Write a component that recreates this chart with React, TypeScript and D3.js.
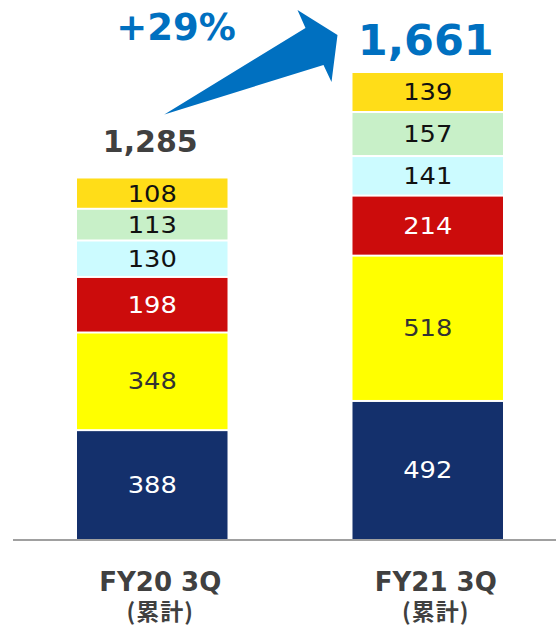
import React from "react";
import * as d3 from "d3";

const categories = ["FY20 3Q", "FY21 3Q"];
const subLabel = "(累計)";
const segmentKeys = ["s1", "s2", "s3", "s4", "s5", "s6"];
const fy20Values = [388, 348, 198, 130, 113, 108];
const fy21Values = [492, 518, 214, 141, 157, 139];
const totals = [1285, 1661];
const growthLabel = "+29%";

const segColors = ["#14306c", "#ffff00", "#cc0c0c", "#ccfbff", "#c8f0c8", "#ffdd18"];
const segTextColors = ["#ffffff", "#333333", "#ffffff", "#111111", "#111111", "#111111"];

const W = 556, H = 628;
const BASE = 539;

export default function App() {
  const x = d3.scaleBand<string>().domain(categories).range([14.5, 565.5]).paddingInner(0.4537).paddingOuter(0.2269);
  const y = d3.scaleLinear().domain([0, 1661]).range([BASE, 73]);

  const rows = categories.map((c, i) => {
    const vals = i === 0 ? fy20Values : fy21Values;
    const r: any = { cat: c };
    segmentKeys.forEach((k, j) => (r[k] = vals[j]));
    return r;
  });
  const series = d3.stack().keys(segmentKeys)(rows);
  const bw = x.bandwidth();
  const fmt = d3.format(",");

  // arrow anchored to the two totals: tail near FY20 total, head left of FY21 total
  const tx = x(categories[0])! + bw * 0.58, ty = y(totals[0]) - 64;
  const hx = x(categories[1])! - 15, hy = y(totals[1]) - 38;
  const arrowPts: [number, number][] = [
    [tx, ty],
    [hx - 32, hy - 7],
    [hx - 40, hy - 25],
    [hx, hy],
    [hx - 6, hy + 47],
    [hx - 14, hy + 30],
  ];

  return (
    <svg width={W} height={H} style={{ position: "absolute", left: 0, top: 0, background: "#fff" }}>
      <line x1={13} x2={W} y1={BASE + 1} y2={BASE + 1} stroke="#a0a0a0" strokeWidth={2} />
      {series.map((s, j) => (
        <g key={s.key}>
          {s.map((d, i) => {
            const y0 = y(d[0]), y1 = y(d[1]);
            const top = y1 + (j === series.length - 1 ? 0 : 1);
            const bot = y0 - (j === 0 ? 0 : 1);
            const cx = x(categories[i])! + bw / 2;
            return (
              <g key={i}>
                <rect x={x(categories[i])} y={top} width={bw} height={bot - top} fill={segColors[j]} />
                <text
                  transform={`translate(${cx},${(y0 + y1) / 2 + 8}) scale(1.12,1)`}
                  textAnchor="middle"
                  fontFamily="DejaVu Sans, Verdana, sans-serif"
                  fontSize={23}
                  fill={segTextColors[j]}
                >
                  {d[1] - d[0]}
                </text>
              </g>
            );
          })}
        </g>
      ))}
      <text x={x(categories[0])! + bw / 2 - 2} y={y(totals[0]) - 26} textAnchor="middle"
        fontFamily="DejaVu Sans, sans-serif" fontWeight="bold" fontSize={30} fill="#404040">
        {fmt(totals[0])}
      </text>
      <text x={x(categories[1])! + bw / 2 - 2} y={y(totals[1]) - 18} textAnchor="middle"
        fontFamily="DejaVu Sans, sans-serif" fontWeight="bold" fontSize={43} fill="#0070c0">
        {fmt(totals[1])}
      </text>
      <polygon points={arrowPts.map((p) => p.join(",")).join(" ")} fill="#0070c0" />
      <text x={176} y={40} textAnchor="middle" fontFamily="DejaVu Sans, sans-serif"
        fontWeight="bold" fontSize={37} fill="#0070c0">
        {growthLabel}
      </text>
      {categories.map((c) => {
        const cx = x(c)! + bw / 2 + 8;
        return (
          <g key={c} fill="#404040" textAnchor="middle">
            <text x={cx} y={591} fontFamily="DejaVu Sans, sans-serif" fontWeight="bold" fontSize={26}>
              {c}
            </text>
            <text x={cx} y={620} fontFamily="Noto Sans CJK JP, sans-serif" fontWeight="bold"
              fontSize={23} letterSpacing={1}>
              {subLabel}
            </text>
          </g>
        );
      })}
    </svg>
  );
}
